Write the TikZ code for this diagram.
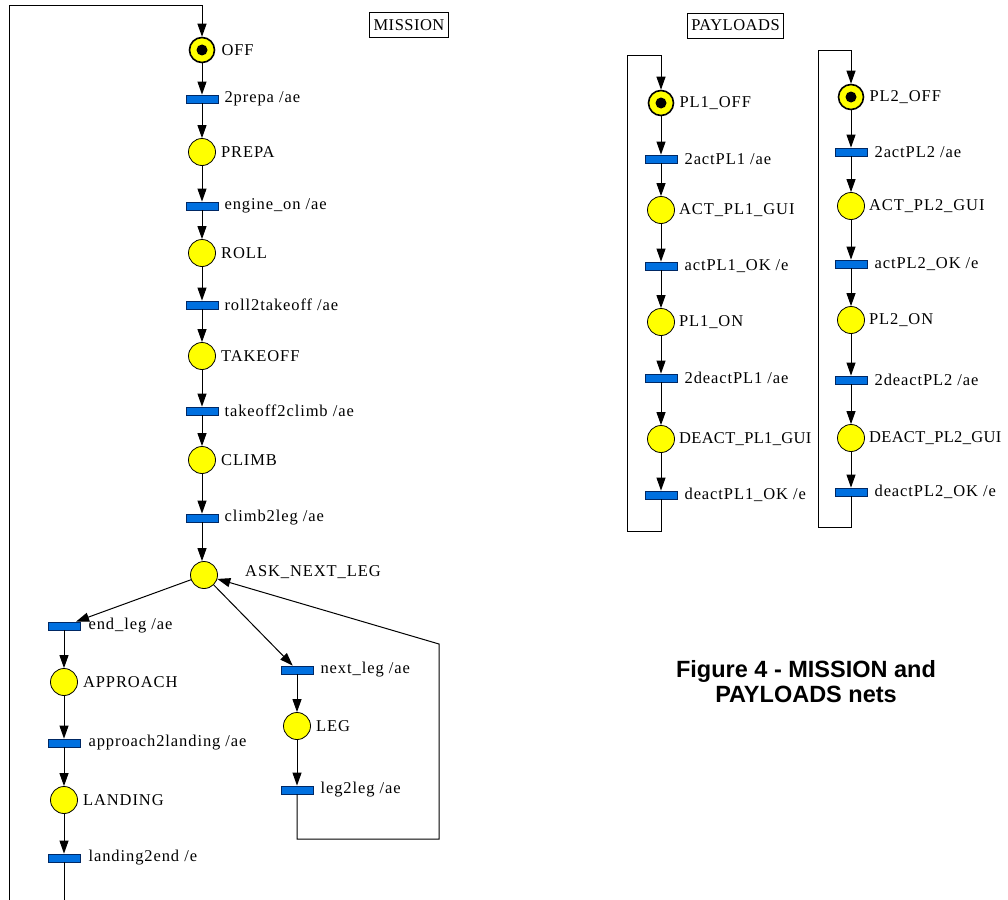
\documentclass[tikz,border=0pt]{standalone}
\usepackage{fontspec}
\setmainfont{Liberation Serif}
\newfontfamily\capfont{Liberation Sans}
\usetikzlibrary{arrows.meta}
\definecolor{pyel}{RGB}{255,255,0}
\definecolor{tblue}{RGB}{0,112,224}
\definecolor{tedge}{RGB}{0,40,100}
\tikzset{
  place/.style={circle,draw=black,fill=pyel,minimum size=27pt,inner sep=0pt,line width=0.8pt},
  mplace/.style={place,line width=1.6pt,minimum size=25pt},
  trans/.style={rectangle,draw=tedge,fill=tblue,minimum width=32pt,minimum height=8pt,inner sep=0pt,line width=0.8pt},
  tok/.style={circle,fill=black,minimum size=11pt,inner sep=0pt},
  lab/.style={anchor=west,inner sep=0pt,font=\fontsize{16.5}{18}\selectfont\addfontfeature{LetterSpace=5.5}},
  nlab/.style={anchor=west,inner sep=0pt,font=\fontsize{16.5}{18}\selectfont\addfontfeature{LetterSpace=2}},
  tbox/.style={draw=black,line width=0.8pt,inner xsep=4pt,inner ysep=7pt,font=\fontsize{16.5}{18}\selectfont\addfontfeature{LetterSpace=3}},
  arc/.style={line width=1pt,-{Triangle[length=13pt,width=9pt]}},
  captext/.style={align=center,font=\capfont\bfseries\fontsize{23.5}{25}\selectfont}
}
\begin{document}
\begin{tikzpicture}[x=1pt,y=-1pt]
\useasboundingbox[fill=white] (0,0) rectangle (1008,899);

% ---------- MISSION ----------
\node[tbox] (mbox) at (409,25) {MISSION};

\node[mplace] (OFF) at (202,50) {};
\node[tok] (tokOFF) at (OFF) {};
\node[trans] (t2prepa) at (202,99) {};
\node[place] (PREPA) at (202,152) {};
\node[trans] (tengine) at (202,206) {};
\node[place] (ROLL) at (202,253) {};
\node[trans] (troll) at (202,305) {};
\node[place] (TAKEOFF) at (202,356) {};
\node[trans] (ttake) at (202,411) {};
\node[place] (CLIMB) at (202,460) {};
\node[trans] (tclimb) at (202,518) {};
\node[place] (ASK) at (204,575) {};

\node[trans] (tendleg) at (64,626) {};
\node[place] (APPROACH) at (64,682) {};
\node[trans] (tappr) at (64,743) {};
\node[place] (LANDING) at (64,800) {};
\node[trans] (tland) at (64,858) {};

\node[trans] (tnextleg) at (297,670) {};
\node[place] (LEG) at (297,726) {};
\node[trans] (tleg2leg) at (297,790) {};

\node[lab] (lOFF) at ([xshift=6pt]OFF.east) {OFF};
\node[lab] (l2prepa) at ([xshift=6pt]t2prepa.east) {2prepa /ae};
\node[lab] (lPREPA) at ([xshift=5pt]PREPA.east) {PREPA};
\node[lab] (lengine) at ([xshift=6pt]tengine.east) {engine\_on /ae};
\node[lab] (lROLL) at ([xshift=5pt]ROLL.east) {ROLL};
\node[lab] (lroll) at ([xshift=6pt]troll.east) {roll2takeoff /ae};
\node[lab] (lTAKEOFF) at ([xshift=5pt]TAKEOFF.east) {TAKEOFF};
\node[lab] (ltake) at ([xshift=6pt]ttake.east) {takeoff2climb /ae};
\node[lab] (lCLIMB) at ([xshift=5pt]CLIMB.east) {CLIMB};
\node[lab] (lclimb) at ([xshift=6pt]tclimb.east) {climb2leg /ae};
\node[lab] (lASK) at (245,572) {ASK\_NEXT\_LEG};
\node[lab] (lendleg) at ([xshift=8pt]tendleg.east) {end\_leg /ae};
\node[lab] (lAPPR) at ([xshift=5pt]APPROACH.east) {APPROACH};
\node[lab] (lappr) at ([xshift=8pt]tappr.east) {approach2landing /ae};
\node[lab] (lLAND) at ([xshift=5pt]LANDING.east) {LANDING};
\node[lab] (lland) at ([xshift=8pt]tland.east) {landing2end /e};
\node[lab] (lnextleg) at ([xshift=7pt]tnextleg.east) {next\_leg /ae};
\node[lab] (lLEG) at ([xshift=5pt]LEG.east) {LEG};
\node[lab] (lleg2leg) at ([xshift=7pt]tleg2leg.east) {leg2leg /ae};

\draw[arc] (OFF) -- (t2prepa);
\draw[arc] (t2prepa) -- (PREPA);
\draw[arc] (PREPA) -- (tengine);
\draw[arc] (tengine) -- (ROLL);
\draw[arc] (ROLL) -- (troll);
\draw[arc] (troll) -- (TAKEOFF);
\draw[arc] (TAKEOFF) -- (ttake);
\draw[arc] (ttake) -- (CLIMB);
\draw[arc] (CLIMB) -- (tclimb);
\draw[arc] (tclimb.south) -- (ASK.north -| tclimb.south);
\draw[arc] (ASK) -- (tendleg);
\draw[arc] (ASK) -- (tnextleg);
\draw[arc] (tendleg) -- (APPROACH);
\draw[arc] (APPROACH) -- (tappr);
\draw[arc] (tappr) -- (LANDING);
\draw[arc] (LANDING) -- (tland);
\draw[arc] (tnextleg) -- (LEG);
\draw[arc] (LEG) -- (tleg2leg);

\coordinate (lgA) at (297,839);
\coordinate (lgB) at (439,839);
\coordinate (lgC) at (439,644);
\draw[arc] (tleg2leg) -- (lgA) -- (lgB) -- (lgC) -- (ASK);

\coordinate (mlA) at (64,930);
\coordinate (mlB) at (9,930);
\coordinate (mlC) at (9,6);
\coordinate (mlD) at (202,6);
\draw[arc] (tland) -- (mlA) -- (mlB) -- (mlC) -- (mlD) -- (OFF);

% ---------- PAYLOADS ----------
\node[tbox] (pbox) at (735.5,25.5) {PAYLOADS};

\node[mplace] (PL1OFF) at (661,103) {};
\node[tok] (tokPL1) at (PL1OFF) {};
\node[trans] (t2act1) at (661,159) {};
\node[place] (ACT1) at (661,210) {};
\node[trans] (tact1ok) at (661,266) {};
\node[place] (PL1ON) at (661,322) {};
\node[trans] (t2deact1) at (661,378) {};
\node[place] (DEACT1) at (661,439) {};
\node[trans] (tdeact1ok) at (661,495) {};

\node[mplace] (PL2OFF) at (851,97) {};
\node[tok] (tokPL2) at (PL2OFF) {};
\node[trans] (t2act2) at (851,152) {};
\node[place] (ACT2) at (851,206) {};
\node[trans] (tact2ok) at (851,264) {};
\node[place] (PL2ON) at (851,320) {};
\node[trans] (t2deact2) at (851,380) {};
\node[place] (DEACT2) at (851,438) {};
\node[trans] (tdeact2ok) at (851,492) {};

\node[lab] (lPL1OFF) at ([xshift=5pt]PL1OFF.east) {PL1\_OFF};
\node[lab] (l2act1) at ([xshift=7pt]t2act1.east) {2actPL1 /ae};
\node[lab] (lACT1) at ([xshift=4pt]ACT1.east) {ACT\_PL1\_GUI};
\node[lab] (lact1ok) at ([xshift=7pt]tact1ok.east) {actPL1\_OK /e};
\node[lab] (lPL1ON) at ([xshift=4pt]PL1ON.east) {PL1\_ON};
\node[lab] (l2deact1) at ([xshift=7pt]t2deact1.east) {2deactPL1 /ae};
\node[nlab] (lDEACT1) at ([xshift=4pt]DEACT1.east) {DEACT\_PL1\_GUI};
\node[lab] (ldeact1ok) at ([xshift=7pt]tdeact1ok.east) {deactPL1\_OK /e};

\node[lab] (lPL2OFF) at ([xshift=5pt]PL2OFF.east) {PL2\_OFF};
\node[lab] (l2act2) at ([xshift=7pt]t2act2.east) {2actPL2 /ae};
\node[lab] (lACT2) at ([xshift=4pt]ACT2.east) {ACT\_PL2\_GUI};
\node[lab] (lact2ok) at ([xshift=7pt]tact2ok.east) {actPL2\_OK /e};
\node[lab] (lPL2ON) at ([xshift=4pt]PL2ON.east) {PL2\_ON};
\node[lab] (l2deact2) at ([xshift=7pt]t2deact2.east) {2deactPL2 /ae};
\node[nlab] (lDEACT2) at ([xshift=4pt]DEACT2.east) {DEACT\_PL2\_GUI};
\node[lab] (ldeact2ok) at ([xshift=7pt]tdeact2ok.east) {deactPL2\_OK /e};

\draw[arc] (PL1OFF) -- (t2act1);
\draw[arc] (t2act1) -- (ACT1);
\draw[arc] (ACT1) -- (tact1ok);
\draw[arc] (tact1ok) -- (PL1ON);
\draw[arc] (PL1ON) -- (t2deact1);
\draw[arc] (t2deact1) -- (DEACT1);
\draw[arc] (DEACT1) -- (tdeact1ok);
\coordinate (p1A) at (661,531);
\coordinate (p1B) at (627,531);
\coordinate (p1C) at (627,56);
\coordinate (p1D) at (661,56);
\draw[arc] (tdeact1ok) -- (p1A) -- (p1B) -- (p1C) -- (p1D) -- (PL1OFF);

\draw[arc] (PL2OFF) -- (t2act2);
\draw[arc] (t2act2) -- (ACT2);
\draw[arc] (ACT2) -- (tact2ok);
\draw[arc] (tact2ok) -- (PL2ON);
\draw[arc] (PL2ON) -- (t2deact2);
\draw[arc] (t2deact2) -- (DEACT2);
\draw[arc] (DEACT2) -- (tdeact2ok);
\coordinate (p2A) at (851,527);
\coordinate (p2B) at (818,527);
\coordinate (p2C) at (818,51);
\coordinate (p2D) at (851,51);
\draw[arc] (tdeact2ok) -- (p2A) -- (p2B) -- (p2C) -- (p2D) -- (PL2OFF);

% ---------- caption ----------
\node[captext] (caption) at (806,682) {Figure 4 - MISSION and\\PAYLOADS nets};
\end{tikzpicture}
\end{document}
